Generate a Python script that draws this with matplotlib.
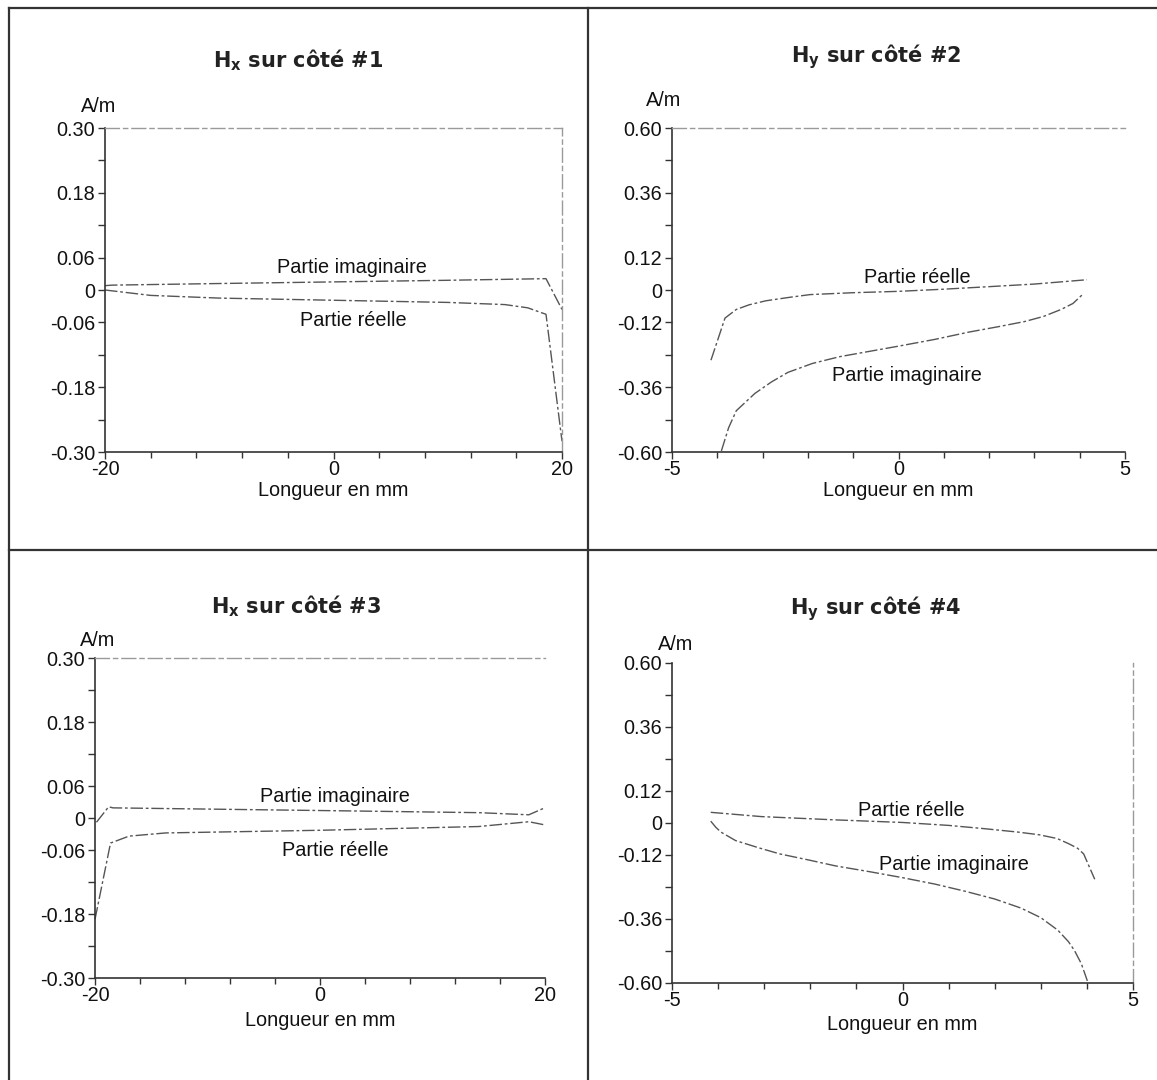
import matplotlib
matplotlib.use("Agg")
import matplotlib.pyplot as plt
from matplotlib.lines import Line2D
from matplotlib.ticker import FixedLocator, MultipleLocator

plt.rcParams["font.family"] = ["Liberation Sans", "DejaVu Sans"]
plt.rcParams["mathtext.default"] = "regular"

W, H = 1157, 1080

# ---- data ----
# Hx sur côté #1
p1_imag_x = [-20, -19.4, -10, 0, 10, 18.6, 20]
p1_imag_y = [0.008, 0.009, 0.012, 0.015, 0.018, 0.021, -0.036]
p1_real_x = [-20, -16, -10, 0, 10, 15, 17, 18.6, 20]
p1_real_y = [0.0, -0.010, -0.015, -0.019, -0.023, -0.027, -0.033, -0.045, -0.28]

# Hy sur côté #2
p2_real_x = [-4.14, -3.83, -3.58, -3.3, -2.93, -2.4, -1.95, -1.0, 0.0, 1.0, 1.96, 3.0, 4.16]
p2_real_y = [-0.26, -0.104, -0.072, -0.055, -0.040, -0.027, -0.017, -0.010, -0.005, 0.003, 0.012, 0.022, 0.038]
p2_imag_x = [-3.91, -3.75, -3.58, -3.17, -2.8, -2.44, -1.9, -1.30, -0.6, 0.0, 0.8, 1.55, 2.2, 2.78, 3.2, 3.59, 3.85, 4.08]
p2_imag_y = [-0.596, -0.51, -0.447, -0.383, -0.34, -0.305, -0.272, -0.247, -0.226, -0.208, -0.183, -0.156, -0.136, -0.117, -0.098, -0.072, -0.050, -0.014]

# Hx sur côté #3
p3_imag_x = [-19.87, -18.79, -18.4, 0.05, 14.13, 18.56, 19.97]
p3_imag_y = [-0.008, 0.021, 0.019, 0.014, 0.010, 0.006, 0.019]
p3_real_x = [-20, -18.62, -16.98, -13.71, 0.05, 14.1, 18.56, 20]
p3_real_y = [-0.19, -0.047, -0.034, -0.028, -0.023, -0.016, -0.007, -0.013]

# Hy sur côté #4
p4_real_x = [-4.16, -3.06, -1.5, 0.0, 1.0, 1.76, 2.5, 2.96, 3.35, 3.61, 3.8, 3.93, 4.17]
p4_real_y = [0.040, 0.024, 0.012, 0.002, -0.009, -0.021, -0.034, -0.044, -0.058, -0.078, -0.095, -0.116, -0.211]
p4_imag_x = [-4.16, -4.05, -3.94, -3.62, -3.1, -2.66, -2.0, -1.45, -0.7, 0.0, 0.7, 1.36, 2.0, 2.57, 3.0, 3.37, 3.6, 3.73, 3.88, 4.01]
p4_imag_y = [0.007, -0.016, -0.034, -0.066, -0.094, -0.116, -0.140, -0.161, -0.183, -0.205, -0.229, -0.256, -0.285, -0.319, -0.355, -0.402, -0.445, -0.478, -0.528, -0.592]

titles = ["H$_x$ sur côté #1", "H$_y$ sur côté #2", "H$_x$ sur côté #3", "H$_y$ sur côté #4"]
x_label = "Longueur en mm"
y_unit = "A/m"

ticks_small = [0.30, 0.24, 0.18, 0.12, 0.06, 0, -0.06, -0.12, -0.18, -0.24, -0.30]
labels_small = ["0.30", "", "0.18", "", "0.06", "0", "-0.06", "", "-0.18", "", "-0.30"]
ticks_big = [0.60, 0.48, 0.36, 0.24, 0.12, 0, -0.12, -0.24, -0.36, -0.48, -0.60]
labels_big = ["0.60", "", "0.36", "", "0.12", "0", "-0.12", "", "-0.36", "", "-0.60"]

# panels: series, annotation positions (data), axes box in pixels, faint frame sides,
# title / unit / xlabel positions in pixels
panels = [
    dict(series=[(p1_imag_x, p1_imag_y), (p1_real_x, p1_real_y)],
         notes=[("Partie imaginaire", 1.6, 0.042), ("Partie réelle", 1.7, -0.057)],
         xlim=(-20, 20), xstep=4, ylim=0.30, yticks=ticks_small, ylabels=labels_small,
         box=(105, 128, 562, 452), top=True, right=True,
         title_xy=(298, 60), unit_xy=(99, 106), xlab_y=491),
    dict(series=[(p2_real_x, p2_real_y), (p2_imag_x, p2_imag_y)],
         notes=[("Partie réelle", 0.41, 0.048), ("Partie imaginaire", 0.19, -0.318)],
         xlim=(-5, 5), xstep=1, ylim=0.60, yticks=ticks_big, ylabels=labels_big,
         box=(672, 128, 1125, 452), top=True, right=False,
         title_xy=(876, 57), unit_xy=(664, 101), xlab_y=491),
    dict(series=[(p3_imag_x, p3_imag_y), (p3_real_x, p3_real_y)],
         notes=[("Partie imaginaire", 1.33, 0.041), ("Partie réelle", 1.4, -0.060)],
         xlim=(-20, 20), xstep=4, ylim=0.30, yticks=ticks_small, ylabels=labels_small,
         box=(95, 658, 545, 978), top=True, right=False,
         title_xy=(296, 606), unit_xy=(98, 640), xlab_y=1021),
    dict(series=[(p4_real_x, p4_real_y), (p4_imag_x, p4_imag_y)],
         notes=[("Partie réelle", 0.2, 0.045), ("Partie imaginaire", 1.12, -0.154)],
         xlim=(-5, 5), xstep=1, ylim=0.60, yticks=ticks_big, ylabels=labels_big,
         box=(672, 663, 1133, 983), top=False, right=True,
         title_xy=(876, 609), unit_xy=(676, 644), xlab_y=1024),
]

fig = plt.figure(figsize=(W / 100, H / 100), dpi=100)
fig.patch.set_facecolor("white")

line_color = "#555555"
fs = 14.3
for i, p in enumerate(panels):
    l, t, r, b = p["box"]
    ax = fig.add_axes([l / W, 1 - b / H, (r - l) / W, (b - t) / H])
    for xs, ys in p["series"]:
        ax.plot(xs, ys, color=line_color, lw=1.0, linestyle=(0, (9, 2, 2, 2)), clip_on=False)
    for txt, tx, ty in p["notes"]:
        ax.text(tx, ty, txt, ha="center", va="center", fontsize=fs, color="#111111")

    ax.set_xlim(*p["xlim"])
    ax.set_ylim(-p["ylim"], p["ylim"])
    ax.set_yticks(p["yticks"])
    ax.set_yticklabels(p["ylabels"])
    lo, hi = p["xlim"]
    ax.xaxis.set_major_locator(FixedLocator([lo, 0, hi]))
    ax.set_xticklabels([str(lo), "0", str(hi)])
    ax.xaxis.set_minor_locator(MultipleLocator(p["xstep"]))
    ax.tick_params(axis="both", which="both", direction="out", colors="#333333",
                   labelcolor="#111111", labelsize=fs, width=1)
    ax.tick_params(axis="y", length=5, pad=2)
    ax.tick_params(axis="x", which="major", length=5, pad=1)
    ax.tick_params(axis="x", which="minor", length=4)

    for side in ("left", "bottom"):
        ax.spines[side].set_color("#333333")
        ax.spines[side].set_linewidth(1.2)
    for side in ("top", "right"):
        sp = ax.spines[side]
        if p[side]:
            sp.set_color("#9a9a9a")
            sp.set_linewidth(1.0)
            sp.set_linestyle((0, (10, 3, 3, 3)))
        else:
            sp.set_visible(False)

    tx, ty = p["title_xy"]
    fig.text(tx / W, 1 - ty / H, titles[i], ha="center", va="center",
             fontsize=15, fontweight="bold", family=["DejaVu Sans"], color="#222222")
    ux, uy = p["unit_xy"]
    fig.text(ux / W, 1 - uy / H, y_unit, ha="center", va="center",
             fontsize=fs, color="#111111")
    fig.text((l + r) / 2 / W, 1 - p["xlab_y"] / H, x_label, ha="center", va="center",
             fontsize=fs, color="#111111")

# frame around the four panels
frame = dict(color="#333333", lw=1.6, transform=fig.transFigure)
fig.add_artist(Line2D([9 / W, 9 / W], [0, 1 - 8 / H], **frame))
fig.add_artist(Line2D([9 / W, 1], [1 - 8 / H, 1 - 8 / H], **frame))
fig.add_artist(Line2D([588 / W, 588 / W], [0, 1 - 8 / H], **frame))
fig.add_artist(Line2D([9 / W, 1], [1 - 550 / H, 1 - 550 / H], **frame))

fig.savefig("out.png", dpi=100, facecolor="white")
